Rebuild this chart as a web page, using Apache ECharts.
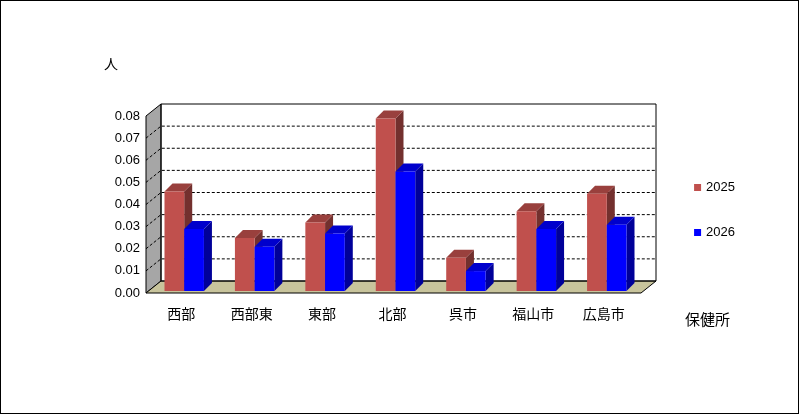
<!DOCTYPE html>
<html><head><meta charset="utf-8">
<script src="https://cdn.jsdelivr.net/npm/echarts@6/dist/echarts.min.js"></script>
<style>html,body{margin:0;padding:0;background:#fff}#c{width:797px;height:412px;border:1px solid #000}</style>
</head><body><div id="c"></div>
<script>
const categories=['西部','西部東','東部','北部','呉市','福山市','広島市'];
const s2025=[0.045,0.024,0.031,0.078,0.015,0.036,0.044];
const s2026=[0.028,0.020,0.026,0.054,0.009,0.028,0.030];
const yTicks=[0,0.01,0.02,0.03,0.04,0.05,0.06,0.07,0.08];
const chart=echarts.init(document.getElementById('c'));
const D=8, DX=15, DY=12;
function shade(c,f){const n=parseInt(c.slice(1),16);let r=(n>>16)*f,g=((n>>8)&255)*f,b=(n&255)*f;return `rgb(${r|0},${g|0},${b|0})`;}
function bar3d(color,off){return function(params,api){
  const x=api.value(0),v=api.value(1);
  const p0=api.coord([x,0]),p1=api.coord([x,v]);
  const bw=api.size([1,0])[0]*0.28;
  const xl=p0[0]+3+off*bw-bw/2, xr=xl+bw, yb=p0[1]-2, yt=p1[1]-2;
  return {type:'group',children:[
    {type:'polygon',shape:{points:[[xr,yb],[xr+D,yb-D],[xr+D,yt-D],[xr,yt]]},style:{fill:shade(color,0.6)}},
    {type:'polygon',shape:{points:[[xl,yt],[xl+D,yt-D],[xr+D,yt-D],[xr,yt]]},style:{fill:shade(color,0.8)}},
    {type:'rect',shape:{x:xl,y:yt,width:bw,height:yb-yt},style:{fill:color}}
  ]};
};}
const option={
  animation:false,
  grid:{left:145,right:159,top:115,bottom:120},
  legend:{orient:'vertical',right:58,top:175,itemGap:32,itemWidth:7,itemHeight:7,icon:'rect',
    textStyle:{fontFamily:'Liberation Sans',fontSize:13,color:'#000'},data:[{name:'2025',itemStyle:{color:'#c0504d'}},{name:'2026',itemStyle:{color:'#0000ff'}}]},
  xAxis:{type:'category',data:categories,axisTick:{show:false},axisLine:{show:false},
    axisLabel:{fontFamily:'Noto Sans CJK JP',fontSize:14,color:'#000',margin:14}},
  yAxis:{type:'value',min:0,max:0.08,interval:0.01,name:'人',nameLocation:'end',nameGap:45,
    nameTextStyle:{fontFamily:'Noto Sans CJK JP',fontSize:14,color:'#000',padding:[0,0,0,-70]},
    axisLabel:{fontFamily:'Liberation Sans',fontSize:13,color:'#000',margin:6,formatter:v=>v.toFixed(2)},
    splitLine:{show:false},axisLine:{show:false},axisTick:{show:false}},
  series:[
    {name:'2025',type:'custom',renderItem:bar3d('#c0504d',-0.5),data:s2025.map((v,i)=>[i,v]),itemStyle:{color:'#c0504d'},z:3},
    {name:'2026',type:'custom',renderItem:bar3d('#0000ff',0.5),data:s2026.map((v,i)=>[i,v]),itemStyle:{color:'#0000ff'},z:4}
  ]
};
chart.setOption(option);
const y0=chart.convertToPixel({yAxisIndex:0},0), yM=chart.convertToPixel({yAxisIndex:0},0.08);
const xL=145, xR=640;
const g=[
  {type:'polygon',z:-1,shape:{points:[[xL,y0],[xL+DX,y0-DY],[xL+DX,yM-DY],[xL,yM]]},style:{fill:'#a6a6a6',stroke:'#000'}},
  {type:'polygon',z:-1,shape:{points:[[xL,y0],[xR,y0],[xR+DX,y0-DY],[xL+DX,y0-DY]]},style:{fill:'#c8c49c',stroke:'#000'}},
  {type:'rect',z:-1,shape:{x:xL+DX,y:yM-DY,width:xR-xL,height:y0-yM},style:{fill:'none',stroke:'#000'}},
  {type:'text',left:684,top:311,style:{text:'保健所',font:'15px "Noto Sans CJK JP"',fill:'#000'}}
];
yTicks.slice(1,-1).forEach(t=>{const y=chart.convertToPixel({yAxisIndex:0},t);
  g.push({type:'polyline',z:-1,shape:{points:[[xL,y],[xL+DX,y-DY],[xR+DX,y-DY]]},style:{stroke:'#000',lineDash:[3,2],fill:null}});});
chart.setOption({graphic:g});
</script></body></html>
